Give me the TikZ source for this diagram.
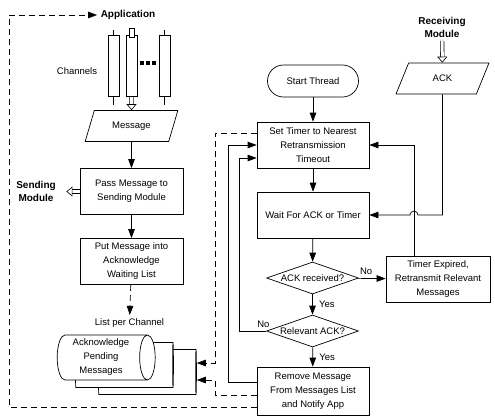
\documentclass[tikz,border=0pt]{standalone}
\usepackage{fontspec}
\setmainfont{Liberation Sans}
\usetikzlibrary{arrows.meta,positioning,shapes.geometric,shapes.arrows,calc}

\begin{document}
\begin{tikzpicture}[x=1pt, y=-1pt, font=\fontsize{9.5}{14}\selectfont,
    line width=0.7pt,
    arr/.style={-{Triangle[length=9pt,width=6.5pt]}},
    dsh/.style={dash pattern=on 6pt off 4pt},
    procbox/.style={draw, fill=white, align=center, minimum width=103,
      minimum height=46, inner sep=1pt},
    iobox/.style={draw, fill=white, trapezium, trapezium left angle=70,
      trapezium right angle=110, trapezium stretches=true,
      minimum width=93, minimum height=31},
    decision/.style={draw, fill=white, diamond, aspect=2.8, inner sep=0pt,
      minimum width=92, minimum height=32},
    tube/.style={draw, cylinder, shape border rotate=90, aspect=0.9,
      minimum width=11, minimum height=61, inner sep=0pt,
      cylinder uses custom fill, cylinder body fill=white,
      cylinder end fill=gray!25},
    drum/.style={draw, cylinder, aspect=0.4, minimum width=45,
      minimum height=98, align=center, inner sep=1pt,
      cylinder uses custom fill, cylinder body fill=white,
      cylinder end fill=white},
    lbl/.style={font=\fontsize{10}{13}\selectfont\bfseries, align=center},
    hollow/.style={double, double distance=3pt, line width=0.6pt,
      -{Triangle[open,length=6pt,width=10pt]}},
  ]
  \useasboundingbox (0,0) rectangle (495,416);

  % Left column: application side
  \node[lbl] (app) at (128,15) {Application};
  \node (chlabel) at (77,71) {Channels};
  \node[tube] (ch1) at (113.5,66.5) {};
  \node[tube] (ch2) at (131.5,66.5) {};
  \node[tube] (ch3) at (164.5,66.5) {};
  \node[iobox] (msg) at (131.5,126) {Message};
  \node[procbox] (pass) at (131.5,191.5) {Pass Message to\\Sending Module};
  \node[lbl] (sendmod) at (36,191.5) {Sending\\Module};
  \node[procbox] (put) at (131.5,261.5) {Put Message into\\Acknowledge\\Waiting List};
  \node (listlbl) at (129.5,323) {List per Channel};

  % Pending lists, one per channel
  \node[drum] (list3) at (147,372) {};
  \node[drum] (list2) at (124,365) {};
  \node[drum] (list1) at (101,357.5) {Acknowledge\\Pending\\Messages};

  % Right column: retransmission thread
  \node[draw, rounded corners=16pt, minimum width=91, minimum height=32] (start) at (313,81) {Start Thread};
  \node[procbox, minimum width=112] (settimer) at (313,145) {Set Timer to Nearest\\Retransmission\\Timeout};
  \node[procbox, minimum width=112] (wait) at (313,215) {Wait For ACK or Timer};
  \node[decision] (ackrec) at (312.5,278) {ACK received?};
  \node[decision] (relack) at (312.5,331) {Relevant ACK?};
  \node[procbox, minimum width=112, minimum height=48] (remove) at (313,391) {Remove Message\\From Messages List\\and Notify App};
  \node[procbox, minimum width=104] (timer) at (438,279) {Timer Expired,\\Retransmit Relevant\\Messages};
  \node[lbl] (recvmod) at (442,27) {Receiving\\Module};
  \node[iobox] (ack) at (442.5,78.5) {ACK};

  % Channel stubs and dots
  \foreach \c in {ch1,ch3}{
    \draw (\c.north) -- ++(0,-5);
    \draw (\c.south) -- ++(0,8);
  }
  \draw[fill=white] (129,28) rectangle (134,37);
  \foreach \x in {142,148,154}
    \fill (\x-1.8,61.2) rectangle ++(3.6,3.6);

  % Message flow
  \draw[hollow] (ch2.south) -- (msg.north);
  \draw[arr] (msg) -- (pass);
  \draw[hollow, shorten >=7pt] (pass.west) -- (sendmod.east);
  \draw[arr] (pass) -- (put);
  \draw[arr, dsh] (put) -- (listlbl);

  % Thread flow
  \draw[arr] (start) -- (settimer);
  \draw[arr] (settimer) -- (wait);
  \draw[arr] (wait) -- (ackrec);
  \draw[arr] (ackrec) -- node[right=3pt]{Yes} (relack);
  \draw[arr] (ackrec) -- node[above, pos=0.3]{No} (timer);
  \draw[arr] (relack) -- node[right=3pt]{Yes} (remove);
  \draw[arr] (relack.west) -- node[above, pos=0.1]{No} (239,331) |- ([yshift=-13pt]settimer.west);
  \draw[arr] ([yshift=9pt]remove.west) -| (228,145) -- (settimer.west);
  \draw[arr] ([xshift=-24pt]timer.north) |- (settimer.east);

  % ACK input, hops over the retransmit line
  \draw[hollow] (recvmod) -- (ack);
  \draw[arr] (ack.south) |- (418,215) arc[start angle=0, end angle=-180, radius=4] -- (wait.east);

  % Dashed links to the lists and the application
  \draw[dsh, arr] ([yshift=12pt]settimer.west) -| (215,363) -- (list3.east |- 0,363);
  \draw[dsh, arr] ([yshift=-4pt]remove.west) -| (215,380) -- (list3.east |- 0,380);
  \draw[dsh, arr] ([yshift=-16pt]remove.west) -| (9,15) -- (app.west);
\end{tikzpicture}
\end{document}
